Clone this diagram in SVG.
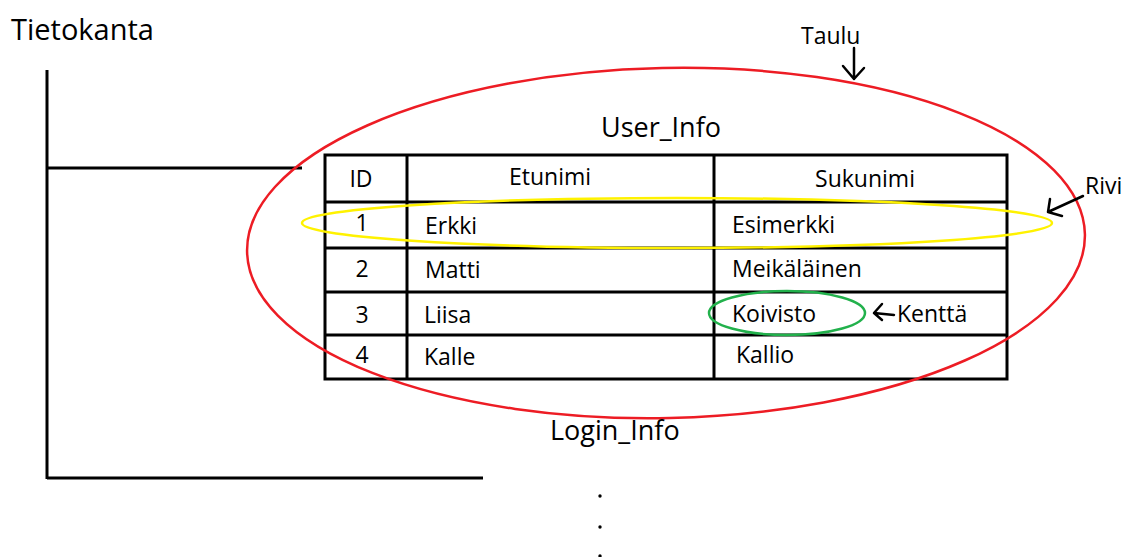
<svg xmlns="http://www.w3.org/2000/svg" width="1127" height="557" viewBox="0 0 1127 557">
  <style>
    text { font-family: "Open Sans", "Liberation Sans", sans-serif; fill: #000; }
    .cell { font-size: 23px; }
    .mid { text-anchor: middle; }
    .big { font-size: 27px; }
    .tree { stroke: #000; stroke-width: 3; fill: none; }
    .grid { stroke: #000; stroke-width: 3; fill: none; }
    .hand { stroke: #000; stroke-width: 2.5; fill: none; stroke-linecap: round; stroke-linejoin: round; }
  </style>

  <rect width="1127" height="557" fill="#fff"/>

  <!-- database tree -->
  <g id="tietokanta">
    <text x="11" y="40" font-size="29">Tietokanta</text>
  </g>
  <g id="connectors">
    <line class="tree" x1="47" y1="70" x2="47" y2="479"/>
    <line class="tree" x1="47" y1="168" x2="302" y2="168"/>
    <line class="tree" x1="47" y1="478" x2="483" y2="478"/>
  </g>

  <!-- User_Info table -->
  <g id="user_info">
    <text class="big mid" x="661" y="137">User_Info</text>
    <rect class="grid" x="325" y="155" width="682" height="224" stroke-width="4"/>
    <line class="grid" x1="325" y1="202" x2="1007" y2="202" stroke-width="5"/>
    <line class="grid" x1="325" y1="248" x2="1007" y2="248"/>
    <line class="grid" x1="325" y1="292" x2="1007" y2="292"/>
    <line class="grid" x1="325" y1="335" x2="1007" y2="335"/>
    <line class="grid" x1="407" y1="155" x2="407" y2="202" stroke-width="5"/>
    <line class="grid" x1="407" y1="202" x2="407" y2="379"/>
    <line class="grid" x1="714" y1="155" x2="714" y2="202" stroke-width="5"/>
    <line class="grid" x1="714" y1="202" x2="714" y2="379"/>

    <text class="cell mid" x="361" y="187">ID</text>
    <text class="cell mid" x="550" y="185">Etunimi</text>
    <text class="cell mid" x="865" y="187">Sukunimi</text>

    <text class="cell mid" x="362" y="231">1</text>
    <text class="cell" x="425" y="234">Erkki</text>
    <text class="cell" x="732" y="233">Esimerkki</text>

    <text class="cell mid" x="362" y="277">2</text>
    <text class="cell" x="425" y="278">Matti</text>
    <text class="cell" x="732" y="277">Meikäläinen</text>

    <text class="cell mid" x="362" y="323">3</text>
    <text class="cell" x="424" y="323">Liisa</text>
    <text class="cell" x="732" y="322">Koivisto</text>

    <text class="cell mid" x="362" y="363">4</text>
    <text class="cell" x="424" y="365">Kalle</text>
    <text class="cell" x="736" y="363">Kallio</text>
  </g>

  <!-- highlight rings -->
  <g id="taulu_ring">
    <ellipse cx="666" cy="243" rx="419" ry="175" fill="none" stroke="#ed1c24" stroke-width="2.5" transform="rotate(-1.2 666 243)"/>
  </g>
  <g id="rivi_ring">
    <ellipse cx="677" cy="223" rx="375" ry="25" fill="none" stroke="#fff200" stroke-width="2.5"/>
  </g>
  <g id="kentta_ring">
    <ellipse cx="787" cy="313" rx="78" ry="22" fill="none" stroke="#22b14c" stroke-width="2.5"/>
  </g>

  <!-- labels with arrows -->
  <g id="taulu">
    <text x="801" y="44" font-size="23">Taulu</text>
    <path class="hand" d="M854 48 L854 79 M843 66 L854 79 L864 68"/>
  </g>
  <g id="rivi">
    <text x="1085" y="194" font-size="23">Rivi</text>
    <path class="hand" d="M1083 196 L1048 212 M1050 199 L1048 212 L1062 216"/>
  </g>
  <g id="kentta">
    <text x="897" y="322" font-size="23">Kenttä</text>
    <path class="hand" d="M894 315 L874 313 M882 304 L874 313 L882 320"/>
  </g>

  <!-- Login_Info table and more -->
  <g id="login_info">
    <text class="big" x="550" y="440">Login_Info</text>
  </g>
  <g id="more">
    <circle cx="600" cy="496" r="1.7" fill="#000"/>
    <circle cx="600" cy="527" r="1.7" fill="#000"/>
    <circle cx="600" cy="556" r="1.7" fill="#000"/>
  </g>
</svg>
